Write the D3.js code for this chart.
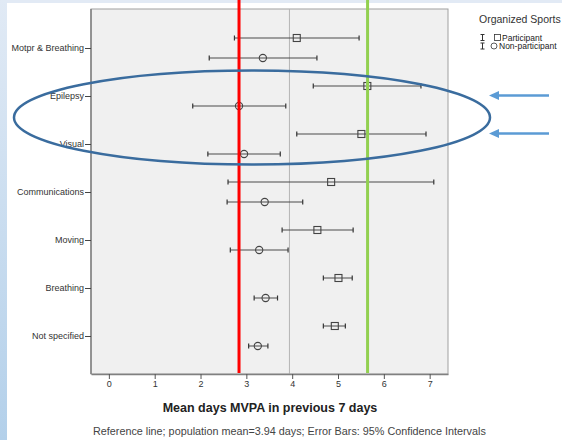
<!DOCTYPE html>
<html>
<head>
<meta charset="utf-8">
<script src="https://cdn.jsdelivr.net/npm/d3@7"></script>
<style>
body{margin:0;padding:0;background:#fff;}
svg{display:block;font-family:"Liberation Sans",Arial,sans-serif;}
</style>
</head>
<body>
<svg id="chart" width="562" height="440"></svg>
<script>
// categories, top to bottom
var categories = ["Motpr & Breathing","Epilepsy","Visual","Communications","Moving","Breathing","Not specified"];
// participant (square) mean + 95% CI
var partMean = [4.10, 5.64, 5.51, 4.85, 4.55, 5.01, 4.93];
var partLow  = [2.74, 4.46, 4.10, 2.60, 3.78, 4.68, 4.68];
var partHigh = [5.46, 6.81, 6.92, 7.09, 5.33, 5.31, 5.16];
// non-participant (circle) mean + 95% CI
var nonMean = [3.36, 2.84, 2.95, 3.40, 3.28, 3.42, 3.25];
var nonLow  = [2.19, 1.83, 2.16, 2.58, 2.65, 3.17, 3.05];
var nonHigh = [4.54, 3.86, 3.74, 4.23, 3.91, 3.68, 3.47];
var xTicks = [0,1,2,3,4,5,6,7];
var popMean = 3.94;
var redMark = 2.84, greenMark = 5.645;

var svg = d3.select("#chart");

// slide background strips
var grad = svg.append("defs").append("linearGradient")
	.attr("id","sideGrad").attr("x1",0).attr("y1",0).attr("x2",0).attr("y2",1);
grad.append("stop").attr("offset","0%").attr("stop-color","#e1eaf5");
grad.append("stop").attr("offset","100%").attr("stop-color","#b3d0ea");
svg.append("rect").attr("x",0).attr("y",0).attr("width",562).attr("height",3).attr("fill","#e2eaf5");
svg.append("rect").attr("x",0).attr("y",0).attr("width",7).attr("height",440).attr("fill","url(#sideGrad)");

var plot = {left:91, right:448, top:9, bottom:374};

var x = d3.scaleLinear().domain([-0.39, 7.40]).range([plot.left, plot.right]);
var y = d3.scalePoint().domain(categories).range([48, 336]);

// plot area
svg.append("rect")
	.attr("x",plot.left).attr("y",plot.top)
	.attr("width",plot.right-plot.left).attr("height",plot.bottom-plot.top)
	.attr("fill","#f0f0f0").attr("stroke","#a0a0a0").attr("stroke-width",1);

// reference line (population mean)
svg.append("line")
	.attr("x1",x(popMean)).attr("x2",x(popMean))
	.attr("y1",plot.top).attr("y2",plot.bottom)
	.attr("stroke","#b4b4b4").attr("stroke-width",1);

// x axis
var xAxis = d3.axisBottom(x).tickValues(xTicks).tickSize(5).tickPadding(2).tickSizeOuter(0);
var gx = svg.append("g").attr("transform","translate(0,"+plot.bottom+")").call(xAxis);
gx.select(".domain").attr("stroke","#808080").attr("stroke-width",1.5);
gx.selectAll(".tick line").attr("stroke","#555");
gx.selectAll("text").attr("font-size","9px").attr("fill","#333").attr("font-family","Liberation Sans, Arial, sans-serif");

// y axis
var yAxis = d3.axisLeft(y).tickSize(6).tickPadding(1).tickSizeOuter(0);
var gy = svg.append("g").attr("transform","translate("+plot.left+",0)").call(yAxis);
gy.select(".domain").attr("d","M0,"+plot.top+"V"+plot.bottom).attr("stroke","#808080").attr("stroke-width",1.5);
gy.selectAll(".tick line").attr("stroke","#444");
gy.selectAll("text").attr("font-size","9px").attr("fill","#333").attr("font-family","Liberation Sans, Arial, sans-serif");

// error bars
function drawBars(means, lows, highs, off, shape){
	var g = svg.append("g");
	categories.forEach(function(c,i){
		var cy = y(c)+off;
		g.append("line").attr("x1",x(lows[i])).attr("x2",x(highs[i]))
			.attr("y1",cy).attr("y2",cy).attr("stroke","#4a4a4a").attr("stroke-width",1);
		[lows[i],highs[i]].forEach(function(v){
			g.append("line").attr("x1",x(v)).attr("x2",x(v))
				.attr("y1",cy-2.5).attr("y2",cy+2.5).attr("stroke","#333").attr("stroke-width",1.2);
		});
		if(shape=="square"){
			g.append("rect").attr("x",x(means[i])-3.5).attr("y",cy-3.5)
				.attr("width",7).attr("height",7)
				.attr("fill","none").attr("stroke","#444").attr("stroke-width",1.1);
		} else {
			g.append("circle").attr("cx",x(means[i])).attr("cy",cy).attr("r",3.6)
				.attr("fill","none").attr("stroke","#444").attr("stroke-width",1.1);
		}
	});
}
drawBars(partMean, partLow, partHigh, -10, "square");
drawBars(nonMean, nonLow, nonHigh, 10, "circle");

// highlight lines
svg.append("line").attr("x1",x(redMark)).attr("x2",x(redMark))
	.attr("y1",0).attr("y2",plot.bottom-1).attr("stroke","#ff0000").attr("stroke-width",3);
svg.append("line").attr("x1",x(greenMark)).attr("x2",x(greenMark))
	.attr("y1",0).attr("y2",plot.bottom-1).attr("stroke","#92d050").attr("stroke-width",3);

// ellipse annotation
svg.append("ellipse").attr("cx",252).attr("cy",117.5).attr("rx",238).attr("ry",47)
	.attr("fill","none").attr("stroke","#3a6c9e").attr("stroke-width",2.5);

// arrows
[95.5,133.5].forEach(function(ay){
	svg.append("line").attr("x1",549).attr("x2",497).attr("y1",ay).attr("y2",ay)
		.attr("stroke","#5b9bd5").attr("stroke-width",2.5);
	svg.append("path").attr("d","M489,"+ay+"L499,"+(ay-4.5)+"L499,"+(ay+4.5)+"Z").attr("fill","#5b9bd5");
});

// legend
svg.append("text").attr("x",479).attr("y",23).attr("font-size","10.5px").attr("fill","#333").text("Organized Sports");
var legendRows = [{label:"Participant", shape:"square", y:37.5},{label:"Non-participant", shape:"circle", y:46}];
legendRows.forEach(function(r){
	var g = svg.append("g").attr("transform","translate(0,"+r.y+")");
	g.append("line").attr("x1",482.5).attr("x2",482.5).attr("y1",-3).attr("y2",3).attr("stroke","#333");
	g.append("line").attr("x1",480.5).attr("x2",484.5).attr("y1",-3).attr("y2",-3).attr("stroke","#333");
	g.append("line").attr("x1",480.5).attr("x2",484.5).attr("y1",3).attr("y2",3).attr("stroke","#333");
	if(r.shape=="square"){
		g.append("rect").attr("x",494.5).attr("y",-3).attr("width",6).attr("height",6).attr("fill","none").attr("stroke","#333").attr("stroke-width",0.8);
		g.append("text").attr("x",502).attr("y",3.2).attr("font-size","8.5px").attr("fill","#222").text(r.label);
	} else {
		g.append("circle").attr("cx",494).attr("cy",0).attr("r",3).attr("fill","none").attr("stroke","#333").attr("stroke-width",0.8);
		g.append("text").attr("x",499).attr("y",3.2).attr("font-size","8.5px").attr("fill","#222").text(r.label);
	}
});

// titles
svg.append("text").attr("x",270).attr("y",412).attr("text-anchor","middle")
	.attr("font-size","12.5px").attr("font-weight","bold").attr("fill","#222")
	.text("Mean days MVPA in previous 7 days");
svg.append("text").attr("x",93).attr("y",435)
	.attr("font-size","10.8px").attr("fill","#444")
	.text("Reference line; population mean=3.94 days; Error Bars: 95% Confidence Intervals");
</script>
</body>
</html>
